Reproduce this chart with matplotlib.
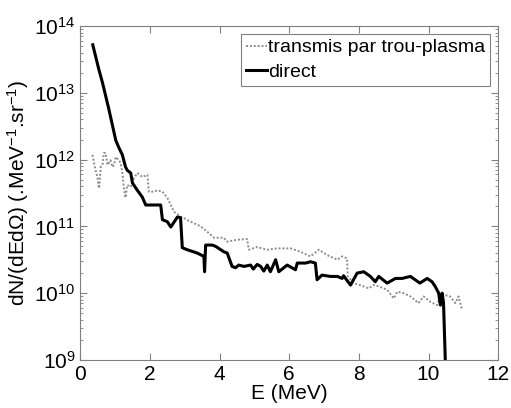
import numpy as np
import matplotlib
matplotlib.use('Agg')
import matplotlib.pyplot as plt

plt.rcParams['font.family'] = ['Liberation Sans', 'DejaVu Sans']
plt.rcParams['mathtext.fontset'] = 'custom'
plt.rcParams['mathtext.rm'] = 'Liberation Sans'
plt.rcParams['mathtext.it'] = 'Liberation Sans:italic'

# direct spectrum: energy (MeV) and log10 of dN/dEdOmega
e_direct = [0.36, 0.53, 0.64, 0.82, 1.02, 1.10, 1.21, 1.30, 1.35, 1.45, 1.50,
            1.64, 1.78, 1.88, 2.31, 2.36, 2.50, 2.60, 2.79, 2.88, 2.93, 3.07,
            3.36, 3.55, 3.57, 3.60, 3.79, 3.89, 4.12, 4.22, 4.36, 4.46, 4.55,
            4.70, 4.89, 4.97, 5.08, 5.18, 5.27, 5.37, 5.46, 5.61, 5.70, 5.94,
            6.18, 6.23, 6.47, 6.61, 6.75, 6.80, 6.94, 7.18, 7.38, 7.52, 7.56,
            7.76, 7.95, 8.14, 8.33, 8.47, 8.57, 8.81, 9.05, 9.24, 9.48, 9.75,
            9.96, 10.10, 10.19, 10.29, 10.34, 10.39, 10.43, 10.48]
log_direct = [13.72, 13.36, 13.15, 12.76, 12.29, 12.19, 12.07, 11.89, 11.84,
              11.80, 11.65, 11.54, 11.44, 11.32, 11.32, 11.10, 11.07, 10.99,
              11.14, 11.13, 10.68, 10.65, 10.60, 10.55, 10.32, 10.72, 10.72,
              10.70, 10.62, 10.60, 10.40, 10.38, 10.42, 10.40, 10.42, 10.36,
              10.43, 10.40, 10.33, 10.42, 10.32, 10.50, 10.32, 10.42, 10.35,
              10.45, 10.45, 10.47, 10.45, 10.20, 10.27, 10.25, 10.25, 10.22,
              10.26, 10.12, 10.30, 10.32, 10.25, 10.17, 10.25, 10.15, 10.22,
              10.22, 10.25, 10.15, 10.22, 10.17, 10.10, 10.00, 9.82, 10.00,
              9.85, 9.00]

# spectrum transmitted through the plasma hole
e_trans = [0.35, 0.44, 0.49, 0.54, 0.59, 0.64, 0.68, 0.73, 0.78, 0.87, 0.92,
           0.97, 1.02, 1.11, 1.16, 1.21, 1.26, 1.30, 1.35, 1.45, 1.54, 1.64,
           1.78, 1.93, 1.97, 2.12, 2.21, 2.36, 2.50, 2.69, 2.88, 3.17, 3.46,
           3.69, 3.84, 4.12, 4.22, 4.51, 4.79, 4.84, 5.08, 5.37, 5.65, 6.04,
           6.32, 6.61, 6.85, 7.09, 7.38, 7.52, 7.66, 7.68, 7.85, 8.14, 8.28,
           8.42, 8.57, 8.81, 9.00, 9.10, 9.28, 9.48, 9.71, 9.86, 10.05, 10.24,
           10.34, 10.48, 10.62, 10.77, 10.86, 10.96]
log_trans = [12.07, 11.84, 11.75, 11.57, 11.89, 11.92, 12.10, 12.10, 11.92,
             11.99, 11.89, 11.92, 12.04, 11.99, 11.95, 11.80, 11.55, 11.43,
             11.62, 11.59, 11.72, 11.80, 11.74, 11.77, 11.52, 11.52, 11.54,
             11.52, 11.43, 11.22, 11.15, 11.07, 11.00, 10.90, 10.83, 10.83,
             10.77, 10.80, 10.81, 10.65, 10.69, 10.65, 10.67, 10.67, 10.62,
             10.55, 10.65, 10.57, 10.50, 10.55, 10.52, 10.25, 10.15, 10.10,
             10.07, 10.12, 10.10, 10.05, 9.92, 10.02, 10.00, 9.95, 9.85, 9.95,
             9.87, 9.82, 9.95, 9.97, 9.95, 9.85, 9.95, 9.75]

fig = plt.figure(figsize=(5.11, 4.08), dpi=100)
ax = fig.add_axes([0.157, 0.118, 0.818, 0.818])

ax.plot(e_trans, 10 ** np.array(log_trans), color='#8c8c8c',
        linestyle=(0, (1, 1)), linewidth=1.4,
        label='transmis par trou-plasma')
ax.plot(e_direct, 10 ** np.array(log_direct), color='black', linewidth=2.2,
        label='direct')

ax.set_yscale('log')
ax.set_xlim(0, 12)
ax.set_ylim(1e9, 1e14)
ax.set_xticks([0, 2, 4, 6, 8, 10, 12])
ax.set_yticks([1e9, 1e10, 1e11, 1e12, 1e13, 1e14])

for s in ax.spines.values():
    s.set_color('#808080')
    s.set_linewidth(0.8)
ax.tick_params(which='both', direction='in', top=True, right=True,
               colors='#808080', labelcolor='black', labelsize=15)
ax.tick_params(which='major', length=5)
ax.tick_params(which='minor', length=2.5)

ax.set_xlabel('E (MeV)', fontsize=15, labelpad=0)
ax.set_ylabel(r'dN/(dEd$\Omega$) (.MeV$^{-1}$.sr$^{-1}$)', fontsize=15,
              labelpad=2)

leg = ax.legend(loc='upper right', fontsize=14, handlelength=1.05,
                handletextpad=0.1, borderpad=0.25, labelspacing=0.35,
                fancybox=False, framealpha=1, borderaxespad=0.4)
leg.get_frame().set_edgecolor('#808080')
leg.get_frame().set_linewidth(0.8)

fig.savefig('out.png', dpi=100)
